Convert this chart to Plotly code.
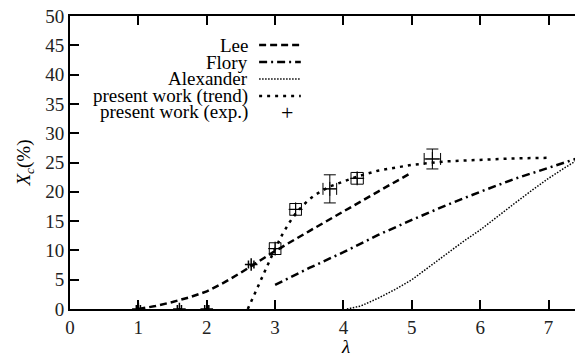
import plotly.graph_objects as go

# theory curves
lee_x = [1.0, 1.25, 1.5, 1.75, 2.0, 2.25, 2.5, 2.75, 3.0, 3.5, 4.0, 4.5, 5.0]
lee_y = [0.0, 0.5, 1.2, 2.0, 3.0, 4.5, 6.2, 8.0, 9.9, 13.3, 16.7, 20.0, 23.3]

flory_x = [3.0, 3.5, 4.0, 4.5, 5.0, 5.5, 6.0, 6.5, 7.0, 7.5]
flory_y = [4.1, 7.0, 9.7, 12.6, 15.2, 17.7, 20.0, 22.2, 24.1, 26.0]

alex_x = [4.05, 4.25, 4.5, 4.75, 5.0, 5.25, 5.5, 5.75, 6.0, 6.25, 6.5, 6.75, 7.0, 7.25, 7.5]
alex_y = [0.0, 0.5, 1.8, 3.3, 5.0, 7.2, 9.4, 11.5, 13.5, 15.8, 18.0, 20.2, 22.3, 24.2, 26.0]

trend_x = [2.6, 2.7, 2.8, 2.9, 3.0, 3.1, 3.2, 3.3, 3.4, 3.5, 3.6, 3.8, 4.0, 4.2,
           4.5, 5.0, 5.5, 6.0, 6.5, 7.0]
trend_y = [0.0, 2.6, 5.2, 7.8, 10.3, 12.6, 14.6, 16.3, 17.6, 18.7, 19.6, 20.9, 21.8, 22.6,
           23.6, 24.6, 25.2, 25.5, 25.7, 25.8]

# experimental points
exp_x = [3.0, 3.3, 3.8, 4.2, 5.3]
exp_y = [10.3, 17.0, 20.5, 22.3, 25.6]
exp_ex = [0.085, 0.085, 0.1, 0.09, 0.12]
exp_ey = [1.0, 1.0, 2.4, 1.0, 1.7]

small_x = [1.0, 1.6, 2.0, 2.65]
small_y = [0.0, 0.0, 0.0, 7.6]
small_ex = [0.03, 0.03, 0.03, 0.04]

legend_names = ['Lee', 'Flory', 'Alexander', 'present work (trend)', 'present work (exp.)']

FONT = 'Liberation Serif, Times New Roman, serif'

fig = go.Figure()
fig.add_trace(go.Scatter(x=lee_x, y=lee_y, mode='lines', line=dict(color='black', width=2.5, dash='7px,4px')))
fig.add_trace(go.Scatter(x=flory_x, y=flory_y, mode='lines', line=dict(color='black', width=2.5, dash='8px,4px,2px,4px')))
fig.add_trace(go.Scatter(x=alex_x, y=alex_y, mode='lines', line=dict(color='black', width=1.5, dash='1.5px,1.5px')))
fig.add_trace(go.Scatter(x=trend_x, y=trend_y, mode='lines', line=dict(color='black', width=2.5, dash='3px,5px')))
fig.add_trace(go.Scatter(
    x=exp_x, y=exp_y, mode='markers',
    marker=dict(symbol='cross-thin', size=10, line=dict(color='black', width=1)),
    error_x=dict(type='data', array=exp_ex, color='black', thickness=1, width=6),
    error_y=dict(type='data', array=exp_ey, color='black', thickness=1, width=6)))
fig.add_trace(go.Scatter(
    x=small_x, y=small_y, mode='markers',
    marker=dict(symbol='cross-thin', size=9, line=dict(color='black', width=1.5)),
    error_x=dict(type='data', array=small_ex, color='black', thickness=1.5, width=4)))

# legend drawn by hand: text on the left, sample on the right (gnuplot style)
rows = [0.901, 0.843, 0.785, 0.727, 0.672]
dashes = ['7px,4px', '8px,4px,2px,4px', '1.5px,1.5px', '3px,5px']
widths = [2.5, 2.5, 1.5, 2.5]
for i, name in enumerate(legend_names):
    fig.add_annotation(x=0.3455, y=rows[i], xref='paper', yref='paper', text=name,
                       showarrow=False, xanchor='right', yanchor='middle',
                       font=dict(family=FONT, size=19, color='black'))
    if i < 4:
        fig.add_shape(type='line', xref='paper', yref='paper', x0=0.363, x1=0.443,
                      y0=rows[i], y1=rows[i], line=dict(color='black', width=widths[i], dash=dashes[i]))
fig.add_annotation(x=0.4165, y=rows[4], xref='paper', yref='paper', text='+', showarrow=False,
                   xanchor='center', yanchor='middle',
                   font=dict(family=FONT, size=22, color='black'))

# x-axis label sits a bit right of the visible plot centre in the original
fig.add_annotation(x=0.528, y=-0.128, xref='paper', yref='paper', text='<i>λ</i>', showarrow=False,
                   xanchor='center', yanchor='middle', font=dict(family=FONT, size=19, color='black'))

axis_common = dict(showline=True, linecolor='black', linewidth=2, mirror='ticks',
                   ticks='inside', ticklen=9, tickwidth=2, tickcolor='black',
                   showgrid=False, zeroline=False, ticklabeloverflow='allow',
                   tickfont=dict(family=FONT, size=19, color='#222'))
fig.update_xaxes(range=[0, 7.62], dtick=1, **axis_common)
fig.update_yaxes(range=[0, 50], dtick=5, title=dict(text='<i>X</i><sub><i>c</i></sub>(%)', standoff=10,
                 font=dict(family=FONT, size=19, color='black')), **axis_common)

# the page has an 8px body margin, so the figure is shifted; its right border falls off-screen
fig.update_layout(width=583, height=359, showlegend=False,
                  margin=dict(l=62, r=0, t=8, b=58, autoexpand=False),
                  plot_bgcolor='white', paper_bgcolor='white')

fig.write_html("out.html")
